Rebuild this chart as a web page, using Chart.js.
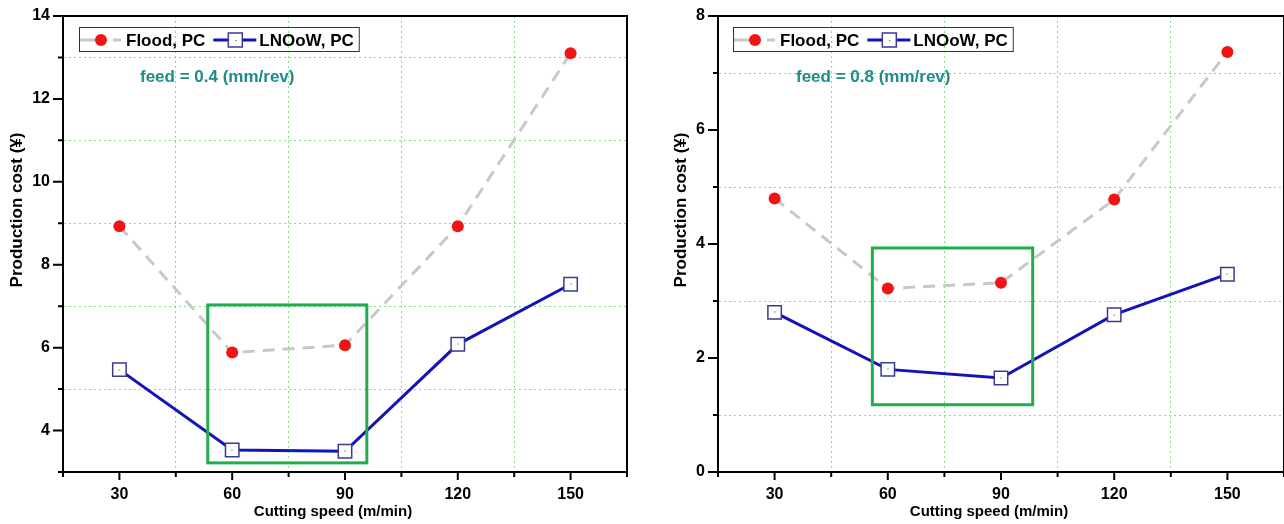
<!DOCTYPE html>
<html>
<head>
<meta charset="utf-8">
<script src="https://cdn.jsdelivr.net/npm/chart.js@4"></script>
<style>
  html, body { margin: 0; padding: 0; background: #fff; }
  #wrap { position: relative; width: 1284px; height: 524px; }
  #c1 { position: absolute; left: 0; top: 0; }
  #c2 { position: absolute; left: 640px; top: 0; }
</style>
</head>
<body>
<div id="wrap">
  <canvas id="c1" width="640" height="524"></canvas>
  <canvas id="c2" width="644" height="524"></canvas>
</div>
<script>
// cutting speeds (m/min)
const speeds = [30, 60, 90, 120, 150];
const seriesNames = ['Flood, PC', 'LNOoW, PC'];

// feed = 0.4 mm/rev
const flood04 = [8.93, 5.88, 6.06, 8.93, 13.1];
const lnoow04 = [5.47, 3.53, 3.50, 6.08, 7.53];
// feed = 0.8 mm/rev
const flood08 = [4.80, 3.22, 3.32, 4.78, 7.37];
const lnoow08 = [2.80, 1.80, 1.65, 2.76, 3.47];

const xTicks = [30, 60, 90, 120, 150];
const yTicks04 = [4, 6, 8, 10, 12, 14];
const yTicks08 = [0, 2, 4, 6, 8];

const xTitle = 'Cutting speed (m/min)';
const yTitle = 'Production cost (¥)';

// highlighted region [x1, x2, y1, y2] in data units
const box04 = [53.5, 95.8, 3.22, 7.03];
const box08 = [55.9, 98.4, 1.18, 3.93];

const FONT = '"Liberation Sans", Arial, sans-serif';
const GRID_GREEN = 'rgba(80, 210, 80, 0.7)';

Chart.defaults.font.family = FONT;
Chart.defaults.font.weight = 'bold';
Chart.defaults.color = '#000';

// frame, tick marks, titles, highlight box, legend and feed note
const decor = {
  id: 'decor',
  afterDatasetsDraw(chart, args, o) {
    const ctx = chart.ctx;
    const xs = chart.scales.x, ys = chart.scales.y;
    // green box
    const b = o.box;
    const bx1 = xs.getPixelForValue(b[0]), bx2 = xs.getPixelForValue(b[1]);
    const by1 = ys.getPixelForValue(b[2]), by2 = ys.getPixelForValue(b[3]);
    ctx.save();
    ctx.strokeStyle = '#1fae4c';
    ctx.lineWidth = 3;
    ctx.strokeRect(bx1, by2, bx2 - bx1, by1 - by2);
    ctx.restore();
    // small dot inside the square markers
    const meta = chart.getDatasetMeta(1);
    ctx.save();
    ctx.fillStyle = '#333';
    meta.data.forEach(p => ctx.fillRect(Math.round(p.x) - 0.5, Math.round(p.y) - 0.5, 1, 1));
    ctx.restore();
  },
  afterDraw(chart, args, o) {
    const ctx = chart.ctx, ca = chart.chartArea;
    const xs = chart.scales.x, ys = chart.scales.y;
    ctx.save();
    ctx.strokeStyle = '#000';
    ctx.lineWidth = 2;
    ctx.strokeRect(ca.left, ca.top, ca.right - ca.left, ca.bottom - ca.top);
    // tick marks
    ctx.beginPath();
    xs.ticks.forEach(t => {
      const px = xs.getPixelForValue(t.value);
      const len = xTicks.includes(t.value) ? 8 : 5;
      ctx.moveTo(px, ca.bottom);
      ctx.lineTo(px, ca.bottom + len);
    });
    ys.ticks.forEach(t => {
      const py = ys.getPixelForValue(t.value);
      const len = o.yTicks.includes(t.value) ? 10 : 5;
      ctx.moveTo(ca.left - len, py);
      ctx.lineTo(ca.left, py);
    });
    ctx.stroke();

    // axis titles
    ctx.fillStyle = '#000';
    ctx.textAlign = 'center';
    ctx.textBaseline = 'middle';
    ctx.font = 'bold 15px ' + FONT;
    ctx.fillText(xTitle, (ca.left + ca.right) / 2 - 12, 512);
    ctx.save();
    ctx.translate(o.yTitleX, 210);
    ctx.rotate(-Math.PI / 2);
    ctx.font = 'bold 17px ' + FONT;
    ctx.fillText(yTitle, 0, 0);
    ctx.restore();
    ctx.textAlign = 'left';

    // legend
    ctx.font = 'bold 17px ' + FONT;
    const x0 = ca.left + o.legendDx, y0 = ca.top + 11, h = 24, cy = y0 + h / 2 + 1;
    let x = x0 + 1;
    chart.data.datasets.forEach((ds, i) => {
      ctx.strokeStyle = ds.borderColor;
      ctx.lineWidth = 3;
      ctx.beginPath();
      if (ds.borderDash) {
        ctx.moveTo(x, cy); ctx.lineTo(x + 18, cy);
        ctx.moveTo(x + 33, cy); ctx.lineTo(x + 41, cy);
      } else {
        ctx.moveTo(x, cy); ctx.lineTo(x + 43, cy);
      }
      ctx.stroke();
      if (ds.pointStyle === 'rect') {
        ctx.fillStyle = ds.pointBackgroundColor;
        ctx.fillRect(x + 15, cy - 7, 14, 14);
        ctx.strokeStyle = ds.pointBorderColor;
        ctx.lineWidth = 1.5;
        ctx.strokeRect(x + 15, cy - 7, 14, 14);
        ctx.fillStyle = '#333';
        ctx.fillRect(x + 22, cy, 1, 1);
      } else {
        ctx.fillStyle = ds.pointBackgroundColor;
        ctx.beginPath();
        ctx.arc(x + 21, cy, 6, 0, Math.PI * 2);
        ctx.fill();
      }
      ctx.fillStyle = '#000';
      const tx = x + 46;
      ctx.fillText(ds.label, tx, cy + 1);
      x = tx + ctx.measureText(ds.label).width + 8;
    });
    ctx.strokeStyle = '#333';
    ctx.lineWidth = 1;
    ctx.strokeRect(x0 + 0.5, y0 + 0.5, x - 8 + 5 - x0, h);

    // feed note
    ctx.fillStyle = '#1d8c89';
    ctx.font = 'bold 17px ' + FONT;
    ctx.fillText(o.note, ca.left + o.noteDx, 77);
    ctx.restore();
  }
};

function makeChart(id, flood, lnoow, yMin, yMax, yTicks, box, note, yWidth, yTitleX, rightPad, legendDx, noteDx) {
  const xEdge = [15, 165];
  return new Chart(document.getElementById(id), {
    type: 'line',
    data: {
      datasets: [
        {
          label: seriesNames[0],
          data: speeds.map((s, i) => ({ x: s, y: flood[i] })),
          borderColor: '#c8c8c8',
          borderWidth: 3,
          borderDash: [12, 8],
          pointRadius: 6,
          pointHoverRadius: 6,
          pointBackgroundColor: '#f01414',
          pointBorderColor: '#f01414',
          pointBorderWidth: 0
        },
        {
          label: seriesNames[1],
          data: speeds.map((s, i) => ({ x: s, y: lnoow[i] })),
          borderColor: '#1414b4',
          borderWidth: 3,
          pointStyle: 'rect',
          pointRadius: 9.5,
          pointHoverRadius: 9.5,
          pointBackgroundColor: '#ffffff',
          pointBorderColor: '#3a3a90',
          pointBorderWidth: 1.5
        }
      ]
    },
    options: {
      responsive: false,
      animation: false,
      layout: { autoPadding: false, padding: { top: 16, right: rightPad, left: 0, bottom: 0 } },
      plugins: {
        legend: { display: false },
        tooltip: { enabled: false },
        decor: { box: box, note: note, yTicks: yTicks, yTitleX: yTitleX, legendDx: legendDx, noteDx: noteDx }
      },
      scales: {
        x: {
          type: 'linear',
          min: xEdge[0],
          max: xEdge[1],
          ticks: {
            stepSize: 15,
            maxTicksLimit: 20,
            autoSkip: false,
            maxRotation: 0,
            padding: 5,
            color: '#000',
            font: { size: 16, weight: 'bold' },
            callback: v => xTicks.includes(v) ? v : ''
          },
          grid: {
            color: c => (c.tick && !xTicks.includes(c.tick.value) && !xEdge.includes(c.tick.value)) ? GRID_GREEN : 'transparent',
            lineWidth: 1,
            tickLength: 8,
            tickColor: 'transparent'
          },
          border: { display: true, color: '#000', width: 2, dash: [2, 3] },
          afterFit: s => { s.height = 52; s.paddingRight = 0; s.paddingLeft = 0; }
        },
        y: {
          min: yMin,
          max: yMax,
          ticks: {
            stepSize: 1,
            autoSkip: false,
            padding: 3,
            color: '#000',
            font: { size: 16, weight: 'bold' },
            callback: v => yTicks.includes(v) ? v : ''
          },
          grid: {
            color: c => (c.tick && !yTicks.includes(c.tick.value) && c.tick.value !== yMin) ? GRID_GREEN : 'transparent',
            lineWidth: 1,
            tickLength: 10,
            tickColor: 'transparent'
          },
          border: { display: true, color: '#000', width: 2, dash: [2, 3] },
          afterFit: s => { s.width = yWidth; }
        }
      }
    },
    plugins: [decor]
  });
}

makeChart('c1', flood04, lnoow04, 3, 14, yTicks04, box04, 'feed = 0.4 (mm/rev)', 63, 17, 13, 16, 77);
makeChart('c2', flood08, lnoow08, 0, 8, yTicks08, box08, 'feed = 0.8 (mm/rev)', 78, 41, 0, 15, 78);
</script>
</body>
</html>
